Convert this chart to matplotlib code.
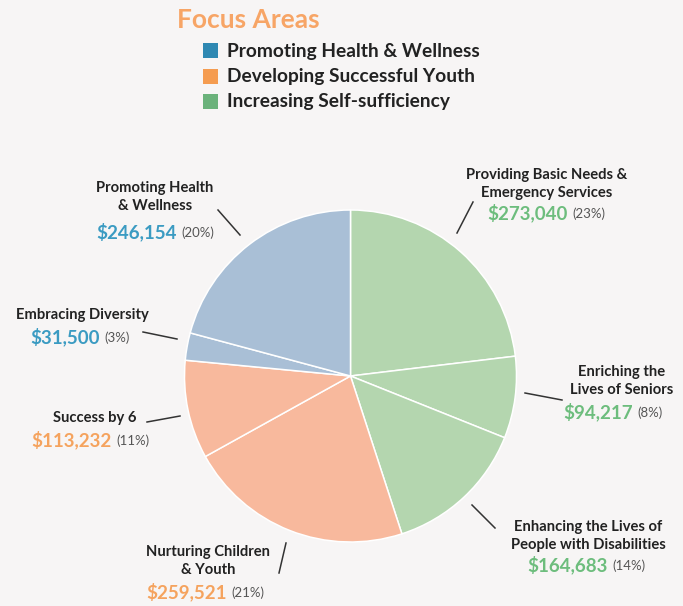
import matplotlib
matplotlib.use("Agg")
import matplotlib.pyplot as plt
from matplotlib.patches import Rectangle

# ---- data ----
categories = ["Providing Basic Needs &\nEmergency Services",
              "Enriching the\nLives of Seniors",
              "Enhancing the Lives of\nPeople with Disabilities",
              "Nurturing Children\n& Youth",
              "Success by 6",
              "Embracing Diversity",
              "Promoting Health\n& Wellness"]
amounts = [273040, 94217, 164683, 259521, 113232, 31500, 246154]
percents = ["(23%)", "(8%)", "(14%)", "(21%)", "(11%)", "(3%)", "(20%)"]
groups = ["green", "green", "green", "orange", "orange", "blue", "blue"]
legend_labels = ["Promoting Health & Wellness", "Developing Successful Youth",
                 "Increasing Self-sufficiency"]
legend_groups = ["blue", "orange", "green"]

slice_col = {"blue": "#a9bfd6", "green": "#b4d6af", "orange": "#f8b99d"}
text_col = {"blue": "#3b9bc2", "green": "#6dbd7d", "orange": "#f5a35e"}
legend_col = {"blue": "#2f88b2", "orange": "#f59c50", "green": "#6bb27b"}

W, H = 683, 606
fig = plt.figure(figsize=(W / 100, H / 100), dpi=100, facecolor="#f7f5f5")
ax = fig.add_axes([0, 0, 1, 1])


def Y(y):
    return H - y


FONT = "Lato"

# pie
ax.pie(amounts, colors=[slice_col[g] for g in groups], startangle=90,
       counterclock=False, center=(350.5, Y(376)), radius=166,
       wedgeprops=dict(edgecolor="white", linewidth=1.1), frame=True)
ax.set_xlim(0, W)
ax.set_ylim(0, H)
ax.set_aspect("equal")
ax.axis("off")

# label layout: (name center x, name first line y, value right x, value y, leader line)
layout = [
    (547, 175, 568, 213, ((473, 202), (457, 233))),
    (622, 372, 633, 412, ((525, 393), (562, 400))),
    (588, 527, 608, 565, ((472, 505), (495, 528))),
    (208, 552, 227, 592, ((286, 543), (279, 573))),
    (95, 418, 112, 440, ((147, 422), (180, 416))),
    (82, 315, 100, 337, ((143, 332), (177, 339))),
    (155, 188, 177, 232, ((218, 210), (240, 235))),
]

for cat, amt, pct, g, (nx, ny, vx, vy, line) in zip(categories, amounts, percents, groups, layout):
    for i, ln in enumerate(cat.split("\n")):
        ax.text(nx, Y(ny + i * 18), ln, ha="center", va="center",
                fontsize=10.6, fontweight="bold", color="#222222", family=FONT)
    ax.text(vx, Y(vy), f"${amt:,}", ha="right", va="center", fontsize=13.5,
            fontweight="bold", color=text_col[g], family=FONT)
    ax.text(vx + 4, Y(vy + 1), pct, ha="left", va="center", fontsize=9.5,
            color="#555555", family=FONT)
    (x0, y0), (x1, y1) = line
    ax.plot([x0, x1], [Y(y0), Y(y1)], color="#333333", lw=1.1)

# legend
ax.text(177, Y(20), "Focus Areas", ha="left", va="center", fontsize=19,
        fontweight="bold", color="#f7a566", family=FONT)
for i, (lab, g) in enumerate(zip(legend_labels, legend_groups)):
    yc = 51 + i * 25.5
    ax.add_patch(Rectangle((203, Y(yc + 7)), 15, 15, color=legend_col[g], lw=0))
    ax.text(227, Y(yc), lab, ha="left", va="center", fontsize=13.8,
            fontweight="bold", color="#222222", family=FONT)

fig.savefig("out.png", dpi=100, facecolor=fig.get_facecolor())
